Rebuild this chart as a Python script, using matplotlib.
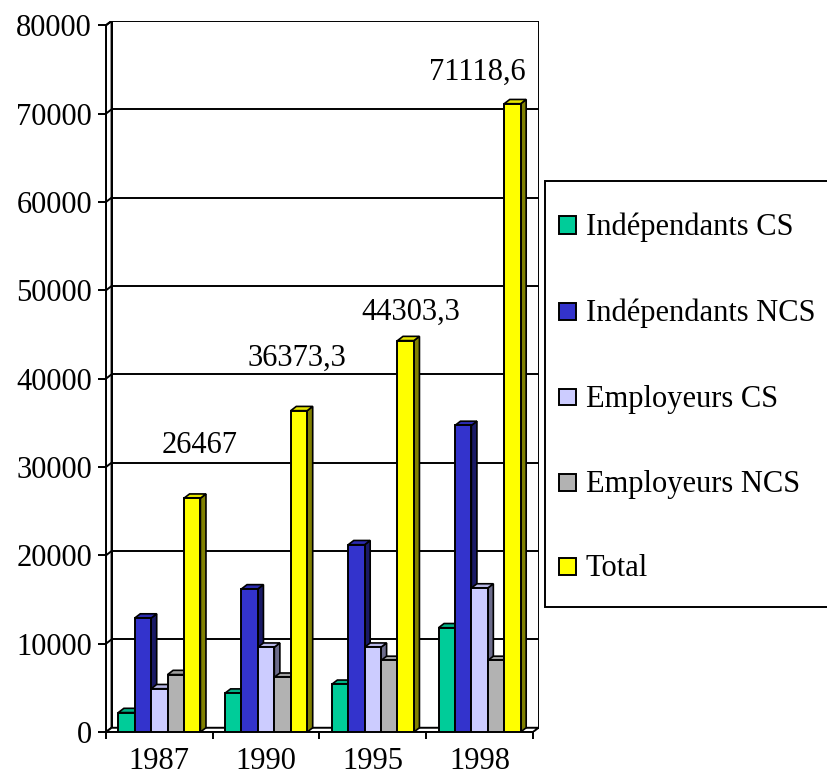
import matplotlib
matplotlib.use("Agg")
import matplotlib.pyplot as plt
from matplotlib.patches import Polygon, Rectangle
from matplotlib.lines import Line2D

# ---------------- data ----------------
categories = ["1987", "1990", "1995", "1998"]
series_names = ["Indépendants CS", "Indépendants NCS", "Employeurs CS",
                "Employeurs NCS", "Total"]
indep_cs = [2200, 4400, 5400, 11800]
indep_ncs = [12900, 16200, 21200, 34700]
empl_cs = [4900, 9600, 9600, 16300]
empl_ncs = [6500, 6200, 8100, 8100]
total = [26467, 36373.3, 44303.3, 71118.6]
total_labels = ["26467", "36373,3", "44303,3", "71118,6"]
y_ticks = [0, 10000, 20000, 30000, 40000, 50000, 60000, 70000, 80000]

# ---------------- style ----------------
front_colors = ["#00CC99", "#3333CC", "#CCCCFF", "#B2B2B2", "#FFFF00"]
side_colors = ["#006B50", "#1A1A66", "#6B6B8A", "#5C5C5C", "#808000"]
top_colors = ["#00B386", "#2B2BB0", "#B8B8E6", "#A0A0A0", "#E6E600"]
label_offsets_px = [(7, 53), (-2, 52), (5, 28), (-35, 31)]

plt.rcParams["font.family"] = ["Liberation Serif", "DejaVu Serif"]
FS = 22
LW = 1.4

W, H = 827, 778
fig = plt.figure(figsize=(W / 100, H / 100), dpi=100)
fig.patch.set_facecolor("white")

# axes = front plane of the 3D box, extended by the depth offset
ymax = 80000
ddx = 0.052      # depth offset (x, data units)
ddy = 480        # depth offset (y, data units)
left_px, right_px, bottom_px, top_px = 106, 538.5, 732, 21
ax = fig.add_axes([left_px / W, 1 - bottom_px / H,
                   (right_px - left_px) / W, (bottom_px - top_px) / H])
ax.set_xlim(0, len(categories) + ddx)
ax.set_ylim(0, ymax + ddy)
ax.patch.set_visible(False)
for sp in ax.spines.values():
    sp.set_visible(False)

ncat = len(categories)
# back wall
ax.add_patch(Rectangle((ddx, ddy), ncat, ymax, facecolor="white",
                       edgecolor="black", lw=LW, zorder=1))
# left wall
ax.add_patch(Polygon([(0, 0), (0, ymax), (ddx, ymax + ddy), (ddx, ddy)],
                     closed=True, facecolor="white", edgecolor="black",
                     lw=LW, zorder=1))
# floor
ax.add_patch(Polygon([(0, 0), (ncat, 0), (ncat + ddx, ddy), (ddx, ddy)],
                     closed=True, facecolor="white", edgecolor="black",
                     lw=LW, zorder=1))
# gridlines on back wall and left wall
for v in y_ticks[1:-1]:
    ax.add_line(Line2D([ddx, ncat + ddx], [v + ddy, v + ddy],
                       color="black", lw=LW, zorder=1.5))
    ax.add_line(Line2D([0, ddx], [v, v + ddy], color="black", lw=LW,
                       zorder=1.5))
ax.add_line(Line2D([0, ddx], [ymax, ymax + ddy], color="black", lw=LW,
                   zorder=1.5))

# 3D bars
series = [indep_cs, indep_ncs, empl_cs, empl_ncs, total]
nser = len(series)
bw = 1.0 / (nser + 1.5)
z = 3
for ci in range(ncat):
    for si, vals in enumerate(series):
        h = vals[ci]
        x0 = ci + 0.5 + (si - nser / 2) * bw
        side = Polygon([(x0 + bw, 0), (x0 + bw + ddx, ddy),
                        (x0 + bw + ddx, h + ddy), (x0 + bw, h)],
                       closed=True, facecolor=side_colors[si],
                       edgecolor="black", lw=1.2, zorder=z)
        top = Polygon([(x0, h), (x0 + bw, h), (x0 + bw + ddx, h + ddy),
                       (x0 + ddx, h + ddy)], closed=True,
                      facecolor=top_colors[si], edgecolor="black", lw=1.2,
                      zorder=z)
        ax.add_patch(side)
        ax.add_patch(top)
        ax.bar([x0], [h], width=bw, align="edge",
               color=front_colors[si], edgecolor="black",
               linewidth=1.4, zorder=z + 0.5)
        z += 1

# data labels on Total
for ci in range(ncat):
    xc = ci + 0.5 + (nser - 1 - nser / 2) * bw + bw / 2
    dx, dy = label_offsets_px[ci]
    ax.annotate(total_labels[ci], xy=(xc, total[ci]),
                xytext=(dx * 0.72, dy * 0.72), textcoords="offset points",
                ha="center", va="center", fontsize=FS, zorder=100,
                annotation_clip=False)

# axes ticks
ax.set_yticks(y_ticks)
ax.set_yticklabels([str(v) for v in y_ticks])
ax.tick_params(axis="y", direction="out", length=5.8, width=LW, pad=4.3,
               labelsize=FS, colors="black")
ax.set_xticks([i + 0.5 for i in range(ncat)])
ax.set_xticklabels(categories)
ax.set_xticks(list(range(ncat + 1)), minor=True)
ax.tick_params(axis="x", which="major", length=0, pad=11, labelsize=FS)
ax.tick_params(axis="x", which="minor", direction="out", length=5,
               width=LW)
# front axis lines (left & bottom of front plane)
ax.add_line(Line2D([0, 0], [0, ymax], color="black", lw=LW, zorder=2,
                   clip_on=False))
ax.add_line(Line2D([0, ncat], [0, 0], color="black", lw=LW, zorder=2,
                   clip_on=False))

# legend (drawn manually in figure pixels)
def fx(x):
    return x / W

def fy(y):
    return 1 - y / H

leg_left, leg_top, leg_bottom = 545, 181, 607
fig.add_artist(Rectangle((fx(leg_left), fy(leg_bottom)),
                         fx(840 - leg_left), fy(leg_top) - fy(leg_bottom),
                         transform=fig.transFigure, facecolor="white",
                         edgecolor="black", lw=LW, clip_on=False))
leg_rows = [225, 311, 397, 482, 566]
for si, name in enumerate(series_names):
    yc = leg_rows[si]
    fig.add_artist(Rectangle((fx(559), fy(yc + 8.5)), fx(17),
                             fy(yc - 8.5) - fy(yc + 8.5),
                             transform=fig.transFigure,
                             facecolor=front_colors[si], edgecolor="black",
                             lw=1.4))
    fig.text(fx(586), fy(yc + 10), name, fontsize=FS, ha="left",
             va="baseline", color="black")

fig.savefig("out.png", dpi=100, facecolor="white")
